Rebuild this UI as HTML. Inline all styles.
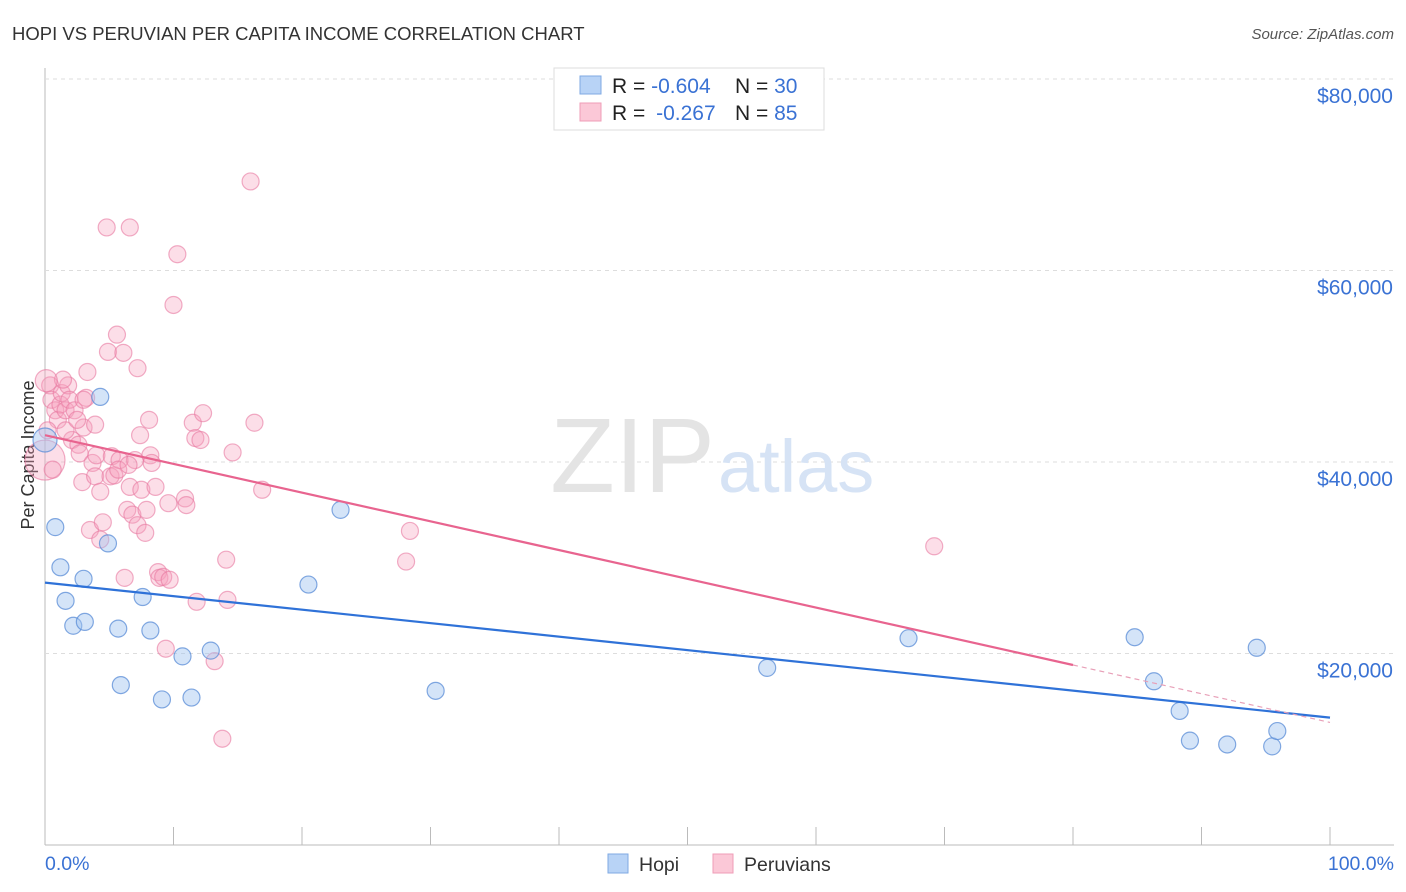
<!DOCTYPE html>
<html><head><meta charset="utf-8"><style>
body{margin:0;background:#fff;font-family:"Liberation Sans",sans-serif;}
#wrap{position:relative;width:1406px;height:892px;overflow:hidden;}
svg text{font-family:"Liberation Sans",sans-serif;}
</style></head><body><div id="wrap">
<svg id="chart" width="1406" height="892" xmlns="http://www.w3.org/2000/svg">
<text x="12" y="40" font-size="18.5" fill="#333">HOPI VS PERUVIAN PER CAPITA INCOME CORRELATION CHART</text>
<text x="1394" y="39" font-size="15" fill="#555" text-anchor="end" font-style="italic">Source: ZipAtlas.com</text>
<text x="34" y="455" font-size="18" fill="#333" text-anchor="middle" transform="rotate(-90 34 455)">Per Capita Income</text>
<g id="grid"></g>
<text x="715" y="492" font-size="106" fill="#e4e4e4" text-anchor="end" font-family="Liberation Serif">ZIP</text>
<text x="718" y="492" font-size="74" fill="#d6e3f5">atlas</text>
<g id="marks"></g>
<g id="lines"></g>
<g>
<rect x="554" y="68" width="270" height="62" fill="#fff" stroke="#ddd"/>
<rect x="580" y="76" width="21" height="18" fill="#b8d3f6" stroke="#7fa9e3"/>
<rect x="580" y="103" width="21" height="18" fill="#fbc8d7" stroke="#ef9db7"/>
<text x="612" y="93" font-size="21" fill="#222">R = <tspan fill="#3a72d4">-0.604</tspan><tspan x="735">N = </tspan><tspan fill="#3a72d4">30</tspan></text>
<text x="612" y="120" font-size="21" fill="#222">R = <tspan fill="#3a72d4" dx="5">-0.267</tspan><tspan x="735">N = </tspan><tspan fill="#3a72d4">85</tspan></text>
</g>
<g>
<rect x="608" y="854" width="20" height="19" fill="#b8d3f6" stroke="#7fa9e3"/>
<text x="639" y="871" font-size="19.5" fill="#333">Hopi</text>
<rect x="713" y="854" width="20" height="19" fill="#fbc8d7" stroke="#ef9db7"/>
<text x="744" y="871" font-size="19.5" fill="#333">Peruvians</text>
</g>
</svg></div>
<script>
const yTicks=[20000,40000,60000,80000];
const yTickLabels=["$20,000","$40,000","$60,000","$80,000"];
const xTicks=[0,10,20,30,40,50,60,70,80,90,100];
const hopiX=[0,0.8,1.2,1.6,2.2,3.0,3.1,4.3,4.9,5.7,5.9,7.6,8.2,9.1,10.7,11.4,12.9,20.5,23.0,30.4,56.2,67.2,84.8,86.3,88.3,89.1,92.0,94.3,95.5,95.9];
const hopiY=[42.3,33.2,29.0,25.5,22.9,27.8,23.3,46.8,31.5,22.6,16.7,25.9,22.4,15.2,19.7,15.4,20.3,27.2,35.0,16.1,18.5,21.6,21.7,17.1,14.0,10.9,10.5,20.6,10.3,11.9];
const peruX=[0,0.4,0.5,0.8,1.0,1.2,1.3,1.6,1.8,1.9,2.1,2.3,2.6,2.7,2.9,3.0,3.2,3.3,3.5,3.7,3.9,4.0,4.3,4.3,4.5,4.8,4.9,5.1,5.2,5.4,5.6,5.8,6.1,6.2,6.4,6.6,6.6,6.8,7.0,7.2,7.2,7.4,7.5,7.8,7.9,8.1,8.2,8.3,8.6,8.8,8.9,9.2,9.4,9.6,9.7,10.0,10.3,10.9,11.0,11.5,11.7,11.8,12.1,12.3,13.2,13.8,14.1,14.2,14.6,16.0,16.3,16.9,28.1,28.4,69.2,0.2,0.6,1.4,1.6,2.5,3.0,3.9,5.7,6.5,0.1];
const peruY=[40.2,48.0,46.5,45.4,44.4,46.0,47.2,45.4,48.0,46.5,42.3,45.4,41.8,40.9,37.9,43.6,46.7,49.4,32.9,39.9,38.5,40.7,31.9,36.9,33.7,64.5,51.5,38.5,40.6,38.6,53.3,40.2,51.4,27.9,35.0,64.5,37.4,34.5,40.2,49.8,33.4,42.8,37.1,32.6,35.0,44.4,40.7,39.9,37.4,28.5,27.9,28.0,20.5,35.7,27.7,56.4,61.7,36.2,35.5,44.1,42.5,25.4,42.3,45.1,19.2,11.1,29.8,25.6,41.0,69.3,44.1,37.1,29.6,32.8,31.2,43.3,39.2,48.6,43.3,44.4,46.5,43.9,39.2,39.7,48.5];
const hopiTrend=[27.4,13.3];
const peruTrend=[42.8,12.8];
const peruSolidEnd=80;
const NS="http://www.w3.org/2000/svg";
const X0=45,X1=1330,Y0=845,YPER=191.5/20000;
const sx=v=>X0+(X1-X0)*v/100, sy=v=>Y0-v*YPER;
function mk(t,a,p){const e=document.createElementNS(NS,t);for(const k in a)e.setAttribute(k,a[k]);p.appendChild(e);return e;}
const grid=document.getElementById('grid');
const axL=mk('line',{x1:X0,x2:X0,y1:68,y2:Y0,stroke:'#bbb'},grid);


const axB=mk('line',{x1:X0,x2:1394,y1:Y0,y2:Y0,stroke:'#bbb'},grid);


yTicks.forEach((v,i)=>{const y=sy(v);
const g=mk('line',{x1:X0,x2:1394,y1:y,y2:y,stroke:'#ddd','stroke-dasharray':'4,4'},grid);


const t=mk('text',{x:1393,y:y+24,'font-size':21,fill:'#3a72d4','text-anchor':'end'},grid);t.textContent=yTickLabels[i];

});
xTicks.forEach(v=>{const x=sx(v);const t=mk('line',{x1:x,x2:x,y1:Y0,y2:Y0-18,stroke:'#bbb'},grid);

});
const xl=mk('text',{x:45,y:870,'font-size':19.5,fill:'#3a72d4'},grid);xl.textContent='0.0%';


const xr=mk('text',{x:1394,y:870,'font-size':19.5,fill:'#3a72d4','text-anchor':'end'},grid);xr.textContent='100.0%';


const marks=document.getElementById('marks');
peruX.forEach((x,i)=>{const r=(i==0)?20:(i==peruX.length-1?11:8.5);
const c=mk('circle',{cx:sx(x),cy:sy(peruY[i]*1000),r:r,fill:'rgba(245,160,190,0.35)',stroke:'rgba(232,120,160,0.6)','stroke-width':1.2},marks);

});
hopiX.forEach((x,i)=>{const r=(i==0)?12:8.5;
const c=mk('circle',{cx:sx(x),cy:sy(hopiY[i]*1000),r:r,fill:'rgba(160,195,240,0.45)',stroke:'rgba(90,140,215,0.75)','stroke-width':1.2},marks);

});
const lines=document.getElementById('lines');
const pAt=x=>peruTrend[0]+(peruTrend[1]-peruTrend[0])*x/100;
const l1=mk('line',{x1:sx(0),y1:sy(hopiTrend[0]*1000),x2:sx(100),y2:sy(hopiTrend[1]*1000),stroke:'#2f72d8','stroke-width':2.2},lines);


const l2=mk('line',{x1:sx(0),y1:sy(pAt(0)*1000),x2:sx(peruSolidEnd),y2:sy(pAt(peruSolidEnd)*1000),stroke:'#e8648f','stroke-width':2.2},lines);


const l3=mk('line',{x1:sx(peruSolidEnd),y1:sy(pAt(peruSolidEnd)*1000),x2:sx(100),y2:sy(pAt(100)*1000),stroke:'#e8a0b8','stroke-width':1.2,'stroke-dasharray':'5,4'},lines);


</script></body></html>
